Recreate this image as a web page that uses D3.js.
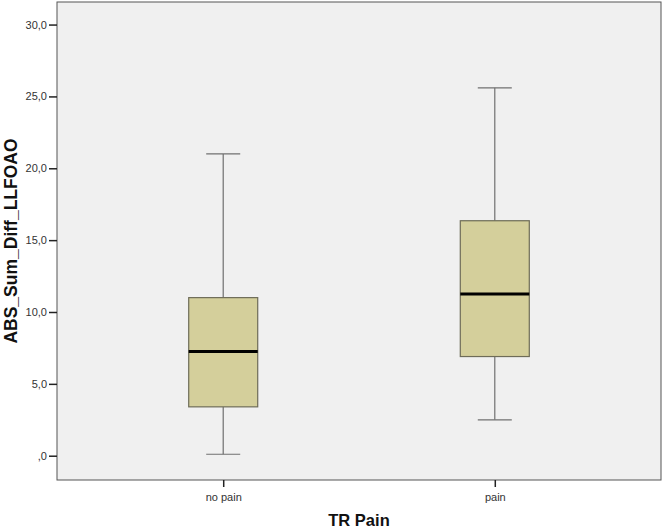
<!DOCTYPE html>
<html>
<head>
<meta charset="utf-8">
<script src="https://cdn.jsdelivr.net/npm/d3@7"></script>
<style>
    body { margin: 0; background: #fff; }
    svg { display: block; font-family: "Liberation Sans", Arial, sans-serif; }
    .tick_label { font-size: 11px; fill: #333; }
    .axis_title { font-weight: bold; fill: #111; }
</style>
</head>
<body>
<div class="graph_container"></div>
<script>
// data
const categories = ["no pain", "pain"];
const whiskerLow = [0.1, 2.5];
const q1Values = [3.4, 6.9];
const medianValues = [7.25, 11.25];
const q3Values = [11.0, 16.35];
const whiskerHigh = [21.0, 25.6];
const yTicks = [0, 5, 10, 15, 20, 25, 30];
const yTickLabels = [",0", "5,0", "10,0", "15,0", "20,0", "25,0", "30,0"];

const width = 663;
const height = 528;
const plot = { left: 57, top: 2, right: 661, bottom: 480 };

const svg = d3.select(".graph_container")
    .append("svg")
    .attr("width", width)
    .attr("height", height);

const xScale = d3.scalePoint().domain(categories).range([plot.left, plot.right]).padding(0.612);
const yScale = d3.scaleLinear().domain([-1.69, 31.57]).range([plot.bottom, plot.top]);

// plot background
svg.append("rect")
    .attr("x", plot.left)
    .attr("y", plot.top)
    .attr("width", plot.right - plot.left)
    .attr("height", plot.bottom - plot.top)
    .attr("fill", "#f0f0f0")
    .attr("stroke", "#555")
    .attr("stroke-width", 1);

// y axis
const yAxis = d3.axisLeft(yScale)
    .tickValues(yTicks)
    .tickSize(8)
    .tickPadding(2)
    .tickFormat((d, i) => yTickLabels[i]);
const gy = svg.append("g").attr("transform", "translate(" + plot.left + ",0)").call(yAxis);
gy.select(".domain").remove();
gy.selectAll(".tick line").attr("stroke", "#222").attr("stroke-width", 1.5);
gy.selectAll(".tick text").attr("class", "tick_label").attr("font-family", null).attr("font-size", null).attr("fill", null);

// x axis
const xAxis = d3.axisBottom(xScale).tickSize(7).tickPadding(6);
const gx = svg.append("g").attr("transform", "translate(0," + plot.bottom + ")").call(xAxis);
gx.select(".domain").remove();
gx.selectAll(".tick line").attr("stroke", "#222").attr("stroke-width", 1.5);
gx.selectAll(".tick text").attr("class", "tick_label").attr("font-family", null).attr("font-size", null).attr("fill", null);

// boxes
const boxW = 69;
const capW = 34;
const boxes = categories.map((c, i) => ({
    cat: c, lo: whiskerLow[i], q1: q1Values[i], med: medianValues[i], q3: q3Values[i], hi: whiskerHigh[i]
}));

const g = svg.append("g");
const box = g.selectAll(".box").data(boxes).enter().append("g").attr("class", "box");

// whisker lines
box.append("line")
    .attr("x1", d => xScale(d.cat)).attr("x2", d => xScale(d.cat))
    .attr("y1", d => yScale(d.q3)).attr("y2", d => yScale(d.hi))
    .attr("stroke", "#707070").attr("stroke-width", 1.2);
box.append("line")
    .attr("x1", d => xScale(d.cat)).attr("x2", d => xScale(d.cat))
    .attr("y1", d => yScale(d.q1)).attr("y2", d => yScale(d.lo))
    .attr("stroke", "#707070").attr("stroke-width", 1.2);
// caps
box.append("line")
    .attr("x1", d => xScale(d.cat) - capW / 2).attr("x2", d => xScale(d.cat) + capW / 2)
    .attr("y1", d => yScale(d.hi)).attr("y2", d => yScale(d.hi))
    .attr("stroke", "#707070").attr("stroke-width", 1.2);
box.append("line")
    .attr("x1", d => xScale(d.cat) - capW / 2).attr("x2", d => xScale(d.cat) + capW / 2)
    .attr("y1", d => yScale(d.lo)).attr("y2", d => yScale(d.lo))
    .attr("stroke", "#707070").attr("stroke-width", 1.2);
// box body
box.append("rect")
    .attr("x", d => xScale(d.cat) - boxW / 2)
    .attr("y", d => yScale(d.q3))
    .attr("width", boxW)
    .attr("height", d => yScale(d.q1) - yScale(d.q3))
    .attr("fill", "#d4cf9b")
    .attr("stroke", "#6e6c58")
    .attr("stroke-width", 1.2);
// median
box.append("line")
    .attr("x1", d => xScale(d.cat) - boxW / 2).attr("x2", d => xScale(d.cat) + boxW / 2)
    .attr("y1", d => yScale(d.med)).attr("y2", d => yScale(d.med))
    .attr("stroke", "#000").attr("stroke-width", 3);

// axis titles
svg.append("text")
    .attr("class", "axis_title")
    .attr("x", (plot.left + plot.right) / 2)
    .attr("y", 526)
    .attr("text-anchor", "middle")
    .style("font-size", "16.5px")
    .text("TR Pain");

svg.append("text")
    .attr("class", "axis_title")
    .attr("transform", "translate(16.5," + (plot.top + plot.bottom) / 2 + ") rotate(-90)")
    .attr("text-anchor", "middle")
    .style("font-size", "17.5px")
    .text("ABS_Sum_Diff_LLFOAO");
</script>
</body>
</html>
